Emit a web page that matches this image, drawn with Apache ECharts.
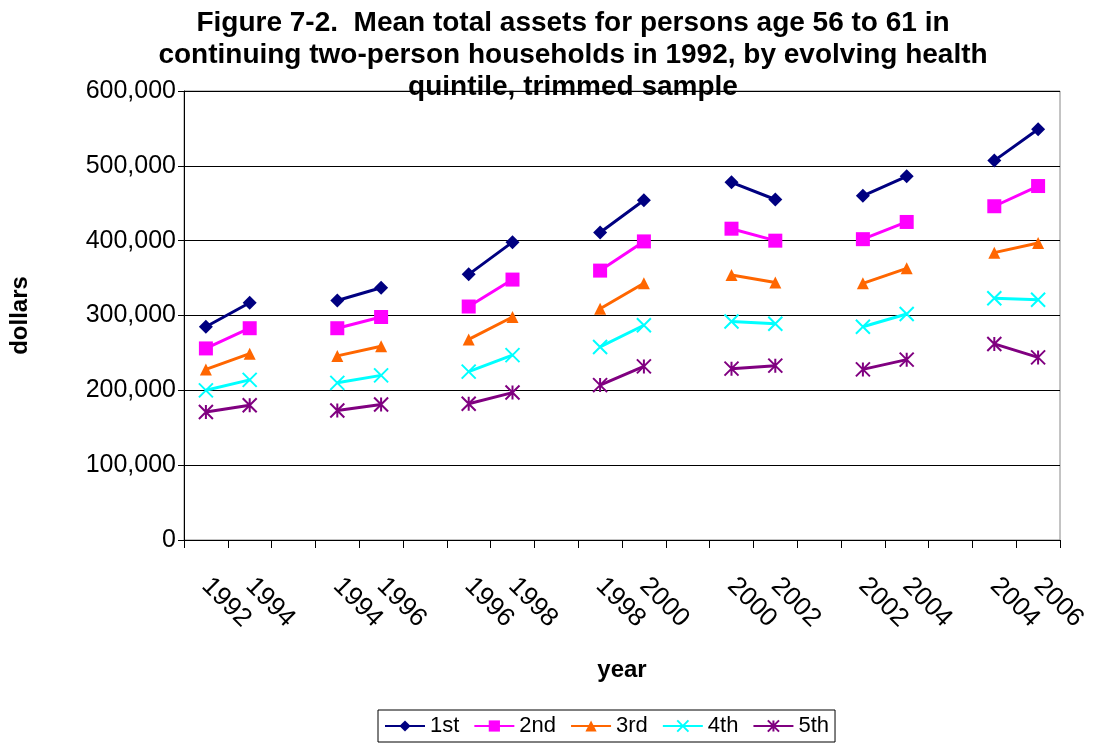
<!DOCTYPE html>
<html>
<head>
<meta charset="utf-8">
<script src="https://cdn.jsdelivr.net/npm/echarts@6/dist/echarts.min.js"></script>
</head>
<body style="margin:0">
<div id="main" style="width:1111px;height:746px;"></div>
<script type="text/javascript">
// categories: pairs of waves, with an empty slot between pairs
var categories = ['1992','1994','','1994','1996','','1996','1998','','1998','2000','','2000','2002','','2002','2004','','2004','2006'];
var q1 = [285,317,null,320,337,null,355,398,null,411,454,null,478,455,null,460,486,null,507,549];
var q2 = [256,283,null,283,298,null,312,348,null,360,399,null,416,400,null,402,425,null,446,473];
var q3 = [228,249,null,246,259,null,268,298,null,309,343,null,354,344,null,343,363,null,384,397];
var q4 = [200,214,null,210,220,null,225,247,null,258,287,null,292,289,null,285,302,null,323,321];
var q5 = [171,180,null,173,181,null,182,197,null,207,232,null,229,233,null,228,241,null,262,244];

function k(arr) {
	return arr.map(function (v) { return v === null ? null : v * 1000; });
}

var myChart = echarts.init(document.getElementById('main'));

function line(name, data, color, symbol, size) {
	return {
		name: name,
		type: 'line',
		data: k(data),
		connectNulls: false,
		symbol: symbol,
		symbolSize: size,
		lineStyle: { color: color, width: 3 },
		itemStyle: { color: color },
		emphasis: { disabled: true }
	};
}

var cross = 'path://M0,0L10,10M10,0L0,10';
var star = 'path://M0,0L10,10M10,0L0,10M5,0L5,10';

option = {
	animation: false,
	textStyle: { fontFamily: 'Arial, Liberation Sans' },
	title: {
		text: 'Figure 7-2.  Mean total assets for persons age 56 to 61 in\ncontinuing two-person households in 1992, by evolving health\nquintile, trimmed sample',
		left: 568,
		textAlign: 'center',
		top: 2,
		textStyle: { fontSize: 28, fontWeight: 'bold', lineHeight: 32, color: '#000' }
	},
	legend: {
		bottom: 4,
		left: 378,
		itemGap: 14,
		itemWidth: 40,
		itemHeight: 14,
		borderColor: '#000',
		borderWidth: 1,
		padding: [5, 6],
		textStyle: { fontSize: 22, color: '#000' },
		data: ['1st','2nd','3rd','4th','5th']
	},
	grid: { left: 178, right: 51, top: 91, bottom: 206, show: true, borderColor: '#888', borderWidth: 1 },
	xAxis: {
		type: 'category',
		data: categories,
		boundaryGap: true,
		name: 'year',
		nameLocation: 'middle',
		nameGap: 118,
		nameTextStyle: { fontSize: 24, fontWeight: 'bold', color: '#000' },
		axisLine: { lineStyle: { color: '#000' } },
		axisTick: { show: true, interval: 0, length: 8 },
		axisLabel: { interval: 0, rotate: -45, fontSize: 26, color: '#000', margin: 42 }
	},
	yAxis: {
		type: 'value',
		min: 0,
		max: 600000,
		interval: 100000,
		name: 'dollars',
		nameLocation: 'middle',
		nameGap: 152,
		nameTextStyle: { fontSize: 24, fontWeight: 'bold', color: '#000' },
		axisLine: { show: true, lineStyle: { color: '#000' } },
		axisTick: { show: true, length: 6 },
		splitLine: { lineStyle: { color: '#000' } },
		axisLabel: {
			fontSize: 25, color: '#000',
			formatter: function (v) { return v.toLocaleString('en-US'); }
		}
	},
	series: [
		line('1st', q1, '#000080', 'diamond', 14),
		line('2nd', q2, '#ff00ff', 'rect', 14),
		line('3rd', q3, '#ff6600', 'triangle', 12),
		line('4th', q4, '#00ffff', cross, 14),
		line('5th', q5, '#800080', star, 14)
	]
};

option.series[3].itemStyle = { color: '#00ffff', borderColor: '#00ffff', borderWidth: 2 };
option.series[4].itemStyle = { color: '#800080', borderColor: '#800080', borderWidth: 2 };

myChart.setOption(option);
</script>
</body>
</html>
